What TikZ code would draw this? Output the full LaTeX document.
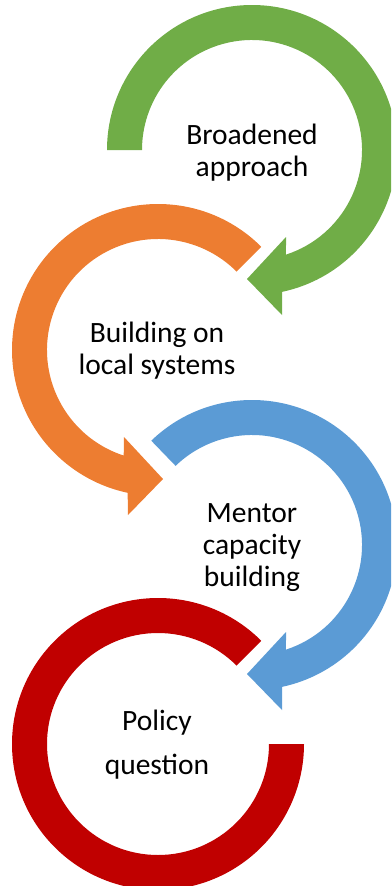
\documentclass[tikz,border=0pt]{standalone}
\usepackage{fontspec}
\setmainfont{Carlito}

\definecolor{arcgreen}{HTML}{70AD47}
\definecolor{arcorange}{HTML}{ED7D31}
\definecolor{arcblue}{HTML}{5B9BD5}
\definecolor{arcred}{HTML}{C00000}

\begin{document}
\begin{tikzpicture}[x=1pt, y=1pt, lbl/.style={font=\fontsize{29.5}{32}\selectfont, align=center}]
  \useasboundingbox (0,0) rectangle (391,-886);
  \clip (0,0) rectangle (391,-886);
  \begin{scope}[shift={(252,-150)}]
    \fill[arcgreen] (180:145) arc[start angle=180, end angle=-78, radius=145] -- (30,-165) -- (-5,-129) -- (34,-87) -- (-72:110) arc[start angle=-72, end angle=180, radius=110] -- cycle;
    \node[lbl] (broad) at (0,-3) {Broadened\\approach};
  \end{scope}
  \begin{scope}[shift={(158,-350)}]
    \fill[arcorange] (45:146) arc[start angle=45, end angle=258, radius=146] -- (-30,-165) -- (5,-129) -- (-34,-87) -- (252:111) arc[start angle=252, end angle=45, radius=111] -- cycle;
    \node[lbl] (local) at (-1,-1) {Building on\\local systems};
  \end{scope}
  \begin{scope}[shift={(252,-545)}]
    \fill[arcblue] (134:145) arc[start angle=134, end angle=-78, radius=145] -- (30,-165) -- (-5,-129) -- (34,-87) -- (-72:110) arc[start angle=-72, end angle=134, radius=110] -- cycle;
    \node[lbl] (mentor) at (0,-3) {Mentor\\capacity\\building};
  \end{scope}
  \begin{scope}[shift={(158,-744)}]
    \fill[arcred] (45:146) arc[start angle=45, end angle=360, radius=146] -- (0:111) arc[start angle=360, end angle=45, radius=111] -- cycle;
    \node[lbl] (policy) at (-1,-1) {Policy\\[12pt]question};
  \end{scope}
\end{tikzpicture}
\end{document}
